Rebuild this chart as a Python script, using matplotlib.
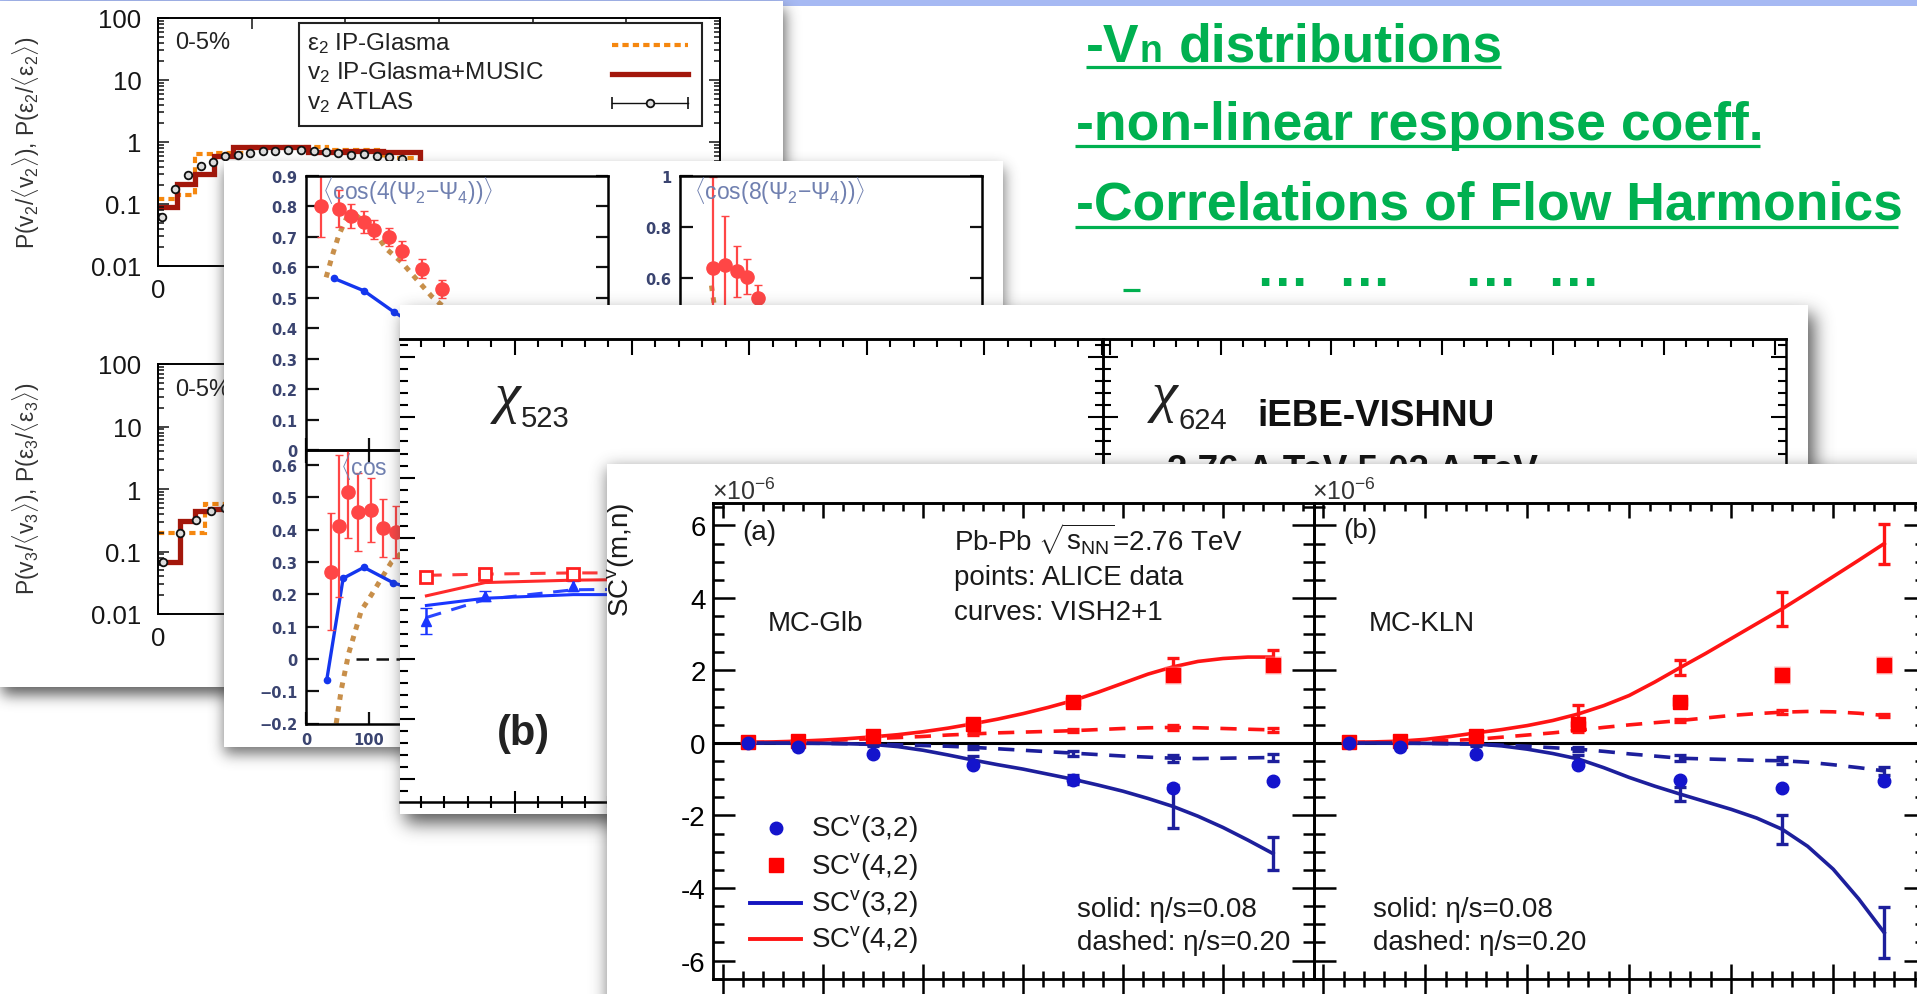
import numpy as np
import matplotlib
matplotlib.use("Agg")
import matplotlib.pyplot as plt
from matplotlib.patches import Rectangle
from matplotlib.ticker import (MultipleLocator, FixedLocator, FixedFormatter,
                               NullFormatter)

W, H = 1917, 995

# ---------------------------------------------------------------
# v2 / v3 event-by-event distributions, 0-5 % (ATLAS vs IP-Glasma)
# ---------------------------------------------------------------
V2_EDGES = [0.0, 0.1, 0.2, 0.3, 0.4, 0.8, 1.0, 1.2, 1.4, 1.6]
V2_MUSIC = [0.088, 0.21, 0.305, 0.60, 0.82, 0.68, 0.72, 0.68, 0.45]
E2_EDGES = [0.0, 0.1, 0.2, 0.3, 0.5, 0.9, 1.2, 1.4, 1.6]
E2_GLASMA = [0.12, 0.14, 0.64, 0.66, 0.82, 0.75, 0.55, 0.40]
V2_ATLAS_X = [0.02, 0.09, 0.16, 0.23, 0.295, 0.356, 0.427, 0.491, 0.561, 0.625,
              0.694, 0.763, 0.833, 0.897, 0.961, 1.03, 1.10, 1.17, 1.233, 1.30]
V2_ATLAS_Y = [0.061, 0.175, 0.29, 0.405, 0.48, 0.59, 0.62, 0.66, 0.71, 0.72,
              0.74, 0.74, 0.72, 0.68, 0.66, 0.62, 0.64, 0.59, 0.57, 0.53]
V3_EDGES = [0.0, 0.12, 0.2, 0.28, 0.4, 0.6]
V3_MUSIC = [0.067, 0.31, 0.45, 0.48, 0.52]
E3_EDGES = [0.0, 0.25, 0.45]
E3_GLASMA = [0.2, 0.57]
V3_ATLAS_X = [0.028, 0.117, 0.203, 0.281, 0.36]
V3_ATLAS_Y = [0.067, 0.20, 0.32, 0.45, 0.50]
DIST_YTICKS = [0.01, 0.1, 1, 10, 100]
DIST_YLABELS = ['0.01', '0.1', '1', '10', '100']
DIST_XTICKS = [0, 0.5, 1, 1.5, 2, 2.5, 3]
DIST_XLABELS = ['0', '', '', '', '', '', '']

# ---------------------------------------------------------------
# event-plane correlations vs Npart
# ---------------------------------------------------------------
NPART_A = [24, 52, 72, 92, 108, 132, 152, 184, 216]
COS4_DATA = [0.80, 0.793, 0.768, 0.749, 0.724, 0.699, 0.655, 0.596, 0.529]
COS4_ERR = [0.10, 0.06, 0.04, 0.035, 0.03, 0.03, 0.03, 0.03, 0.03]
COS4_GLB_X = [32, 42, 52, 64, 80, 104, 128, 152, 176, 200, 230]
COS4_GLB_Y = [0.567, 0.64, 0.705, 0.76, 0.77, 0.73, 0.66, 0.617, 0.56, 0.504, 0.45]
COS4_HYD_X = [44, 92, 140, 190]
COS4_HYD_Y = [0.564, 0.523, 0.453, 0.39]

NPART_B = [52, 71, 90, 106, 124]
COS8_DATA = [0.638, 0.651, 0.625, 0.605, 0.52]
COS8_ERR = [0.36, 0.19, 0.10, 0.07, 0.05]
COS8_GLB_X = [50, 54, 58]
COS8_GLB_Y = [0.57, 0.50, 0.42]

NPART_C = [39, 52, 67, 83, 103, 123, 143]
COS6_DATA = [0.27, 0.412, 0.515, 0.454, 0.46, 0.405, 0.393]
COS6_ERR = [0.18, 0.22, 0.14, 0.12, 0.10, 0.09, 0.08]
COS6_GLB_X = [48, 56, 68, 88, 104, 136, 170]
COS6_GLB_Y = [-0.2, -0.096, 0.018, 0.15, 0.198, 0.30, 0.36]
COS6_HYD_X = [33, 59, 92, 139, 180]
COS6_HYD_Y = [-0.065, 0.249, 0.283, 0.235, 0.21]
EP_YTICKS_A = [0, 0.1, 0.2, 0.3, 0.4, 0.5, 0.6, 0.7, 0.8, 0.9]
EP_YTICKS_B = [0.2, 0.4, 0.6, 0.8, 1.0]
EP_YTICKS_C = [-0.2, -0.1, 0, 0.1, 0.2, 0.3, 0.4, 0.5, 0.6]

# ---------------------------------------------------------------
# non-linear response coefficients (iEBE-VISHNU)
# ---------------------------------------------------------------
CENT_CHI = [2.5, 7.5, 15]
CHI523_OPEN = [2.675, 2.70, 2.70]
CHI523_OPEN_ERR = [0.04, 0.03, 0.03]
CHI523_FULL = [2.31, 2.52, 2.60]
CHI523_FULL_ERR = [0.11, 0.04, 0.04]
CENT_CHI_MODEL = [2.5, 7.5, 15, 25]
CHI523_RED_SOLID = [2.52, 2.63, 2.65, 2.66]
CHI523_RED_DASH = [2.69, 2.70, 2.71, 2.71]
CHI523_BLUE_SOLID = [2.44, 2.50, 2.53, 2.53]
CHI523_BLUE_DASH = [2.34, 2.49, 2.57, 2.58]

# ---------------------------------------------------------------
# symmetric cumulants SC(m,n), Pb-Pb 2.76 TeV
# ---------------------------------------------------------------
CENT = [2.5, 7.5, 15, 25, 35, 45, 55]
SC32_ALICE = [0.0, -0.12, -0.30, -0.61, -1.01, -1.23, -1.04]
SC42_ALICE = [0.04, 0.06, 0.18, 0.53, 1.14, 1.88, 2.14]
SC42_SYS = [0.03, 0.03, 0.05, 0.08, 0.12, 0.25, 0.25]
CENT_FINE = [2.5, 5, 7.5, 10, 12.5, 15, 17.5, 20, 22.5, 25, 27.5,
             30, 32.5, 35, 37.5, 40, 42.5, 45, 47.5, 50, 52.5, 55]
BIN_IDX = [0, 2, 5, 9, 13, 17, 21]

GLB_SC42_008 = [0.02, 0.03, 0.05, 0.08, 0.12, 0.17, 0.23, 0.31, 0.41, 0.53, 0.66,
                0.81, 0.98, 1.17, 1.40, 1.65, 1.90, 2.10, 2.25, 2.33, 2.37, 2.37]
GLB_SC42_020 = [0.01, 0.02, 0.04, 0.06, 0.09, 0.12, 0.15, 0.18, 0.22, 0.25, 0.28,
                0.30, 0.32, 0.34, 0.37, 0.40, 0.42, 0.43, 0.42, 0.40, 0.38, 0.36]
GLB_SC32_008 = [0.0, 0.0, 0.0, -0.01, -0.02, -0.04, -0.10, -0.20, -0.33, -0.47, -0.60,
                -0.72, -0.86, -1.00, -1.16, -1.33, -1.53, -1.75, -2.02, -2.33, -2.68, -3.05]
GLB_SC32_020 = [0.0, 0.0, -0.01, -0.01, -0.02, -0.03, -0.05, -0.07, -0.09, -0.12, -0.16,
                -0.20, -0.24, -0.28, -0.32, -0.36, -0.39, -0.42, -0.43, -0.42, -0.41, -0.40]
GLB_ERR_42_008 = [0.02, 0.02, 0.05, 0.10, 0.10, 0.25, 0.20]
GLB_ERR_42_020 = [0.01, 0.01, 0.03, 0.03, 0.04, 0.06, 0.05]
GLB_ERR_32_008 = [0.02, 0.02, 0.05, 0.10, 0.12, 0.60, 0.45]
GLB_ERR_32_020 = [0.01, 0.01, 0.03, 0.05, 0.07, 0.10, 0.10]

KLN_SC42_008 = [0.02, 0.03, 0.05, 0.10, 0.18, 0.28, 0.37, 0.48, 0.62, 0.80, 1.03,
                1.31, 1.68, 2.08, 2.47, 2.88, 3.29, 3.70, 4.14, 4.59, 5.04, 5.50]
KLN_SC42_020 = [0.01, 0.02, 0.03, 0.05, 0.07, 0.10, 0.16, 0.22, 0.28, 0.35, 0.43,
                0.50, 0.56, 0.62, 0.69, 0.76, 0.81, 0.85, 0.87, 0.86, 0.82, 0.76]
KLN_SC32_008 = [0.0, 0.0, 0.0, -0.01, -0.02, -0.03, -0.08, -0.17, -0.29, -0.44, -0.68,
                -0.95, -1.19, -1.41, -1.62, -1.83, -2.07, -2.38, -2.85, -3.48, -4.30, -5.23]
KLN_SC32_020 = [0.0, 0.0, -0.01, -0.01, -0.02, -0.03, -0.06, -0.09, -0.13, -0.17, -0.23,
                -0.30, -0.36, -0.42, -0.44, -0.46, -0.48, -0.49, -0.53, -0.60, -0.68, -0.77]
KLN_ERR_42_008 = [0.02, 0.02, 0.05, 0.25, 0.20, 0.46, 0.55]
KLN_ERR_42_020 = [0.01, 0.01, 0.03, 0.04, 0.05, 0.05, 0.05]
KLN_ERR_32_008 = [0.02, 0.02, 0.05, 0.10, 0.20, 0.40, 0.71]
KLN_ERR_32_020 = [0.01, 0.01, 0.03, 0.06, 0.08, 0.10, 0.10]

GREEN = '#00b050'
RED = '#ff1414'
NAVY = '#1d1f9c'
BLUE_PT = '#1414cc'

plt.rcParams.update({
    'font.family': ['Liberation Sans', 'DejaVu Sans'],
    'mathtext.fontset': 'custom',
    'mathtext.rm': 'Liberation Sans',
    'mathtext.it': 'Liberation Sans:italic',
    'mathtext.bf': 'Liberation Sans:bold',
    'mathtext.sf': 'Liberation Sans',
    'axes.unicode_minus': False,
    'axes.linewidth': 1.5,
})

fig = plt.figure(figsize=(W / 100, H / 100), dpi=100)
fig.patch.set_facecolor('white')


def box(x0, y0, x1, y1):
    """Pixel box (top-left origin) -> figure fraction rectangle."""
    return [x0 / W, 1 - y1 / H, (x1 - x0) / W, (y1 - y0) / H]


base = fig.add_axes([0, 0, 1, 1])
base.set_xlim(0, W)
base.set_ylim(H, 0)
base.axis('off')
PIX = base.transData


def blur(a, sigma):
    r = int(3 * sigma)
    t = np.arange(-r, r + 1)
    k = np.exp(-0.5 * (t / sigma) ** 2)
    k /= k.sum()
    a = np.apply_along_axis(lambda m: np.convolve(m, k, mode='same'), 0, a)
    a = np.apply_along_axis(lambda m: np.convolve(m, k, mode='same'), 1, a)
    return a


def add_panel(x0, y0, x1, y1, dx=2, dy=6, sigma=7.0, alpha=0.6):
    """White slide panel with a soft drop shadow underneath."""
    pad = int(4 * sigma) + 4
    X0, Y0 = x0 + dx - pad, y0 + dy - pad
    X1, Y1 = x1 + dx + pad, y1 + dy + pad
    a = np.zeros((int(Y1 - Y0), int(X1 - X0)))
    a[pad:-pad, pad:-pad] = 1.0
    a = blur(a, sigma) * alpha
    img = np.zeros(a.shape + (4,))
    img[..., :3] = 0.22
    img[..., 3] = a
    sax = fig.add_axes(box(X0, Y0, X1, Y1))
    sax.axis('off')
    sax.imshow(img, extent=(0, 1, 0, 1), aspect='auto', interpolation='bilinear')
    sax.set_xlim(0, 1)
    sax.set_ylim(0, 1)
    bg = fig.add_axes(box(x0, y0, x1, y1))
    bg.set_xticks([])
    bg.set_yticks([])
    for s in bg.spines.values():
        s.set_visible(False)
    bg.set_facecolor('white')
    return bg


def frame(x0, y0, x1, y1, lw=1.5):
    ax = fig.add_axes(box(x0, y0, x1, y1))
    ax.patch.set_alpha(0)
    for s in ax.spines.values():
        s.set_linewidth(lw)
    return ax


# ---------------- slide header band and bullet text ----------------
base.add_patch(Rectangle((0, 0), W, 7, color='#a6b9f3', lw=0))

gkw = dict(color=GREEN, fontsize=38.5, fontweight='bold', va='baseline', ha='left')
base.text(1086, 61.5, '-V', **gkw)
base.text(1139, 61.5, 'n', color=GREEN, fontsize=27, fontweight='bold', va='baseline', ha='left')
base.text(1179, 61.5, 'distributions', **gkw)
base.plot([1086, 1501], [67.5, 67.5], color=GREEN, lw=2.3, solid_capstyle='butt')
base.text(1076, 140, '-non-linear response coeff.', **gkw)
base.plot([1075, 1760], [146.5, 146.5], color=GREEN, lw=2.3, solid_capstyle='butt')
base.text(1076, 220, '-Correlations of Flow Harmonics', **gkw)
base.plot([1075, 1898], [227.5, 227.5], color=GREEN, lw=2.3, solid_capstyle='butt')
for xc in (1282, 1364, 1490, 1573):
    base.text(xc, 286, '\u2026', color=GREEN, fontsize=38.5, fontweight='bold',
              va='baseline', ha='center')
base.plot([1123, 1140], [291, 291], color=GREEN, lw=2.3, solid_capstyle='butt')

# ====================== panel 1 : v_n distributions ======================
p1 = add_panel(0, 2, 783, 688, dx=2, dy=8, sigma=7, alpha=0.8)


def dist_axes(rect, edges_h, vals_h, edges_e, vals_e, px, py):
    ax = frame(*rect, lw=1.4)
    ax.set_yscale('log')
    ax.stairs(vals_e, edges_e, baseline=None, color='#f5870f', lw=3.0,
              ls=(0, (1.5, 1.0)))
    ax.stairs(vals_h, edges_h, baseline=None, color='#a3170b', lw=3.8)
    ax.errorbar(px, py, yerr=np.array(py) * 0.04, fmt='o', ms=5.5, mfc='#dddddd',
                mec='#111111', mew=1.3, ecolor='#111111', elinewidth=1.0)
    ax.set_xlim(0, 3)
    ax.set_ylim(0.01, 100)
    ax.yaxis.set_major_locator(FixedLocator(DIST_YTICKS))
    ax.yaxis.set_major_formatter(FixedFormatter(DIST_YLABELS))
    ax.yaxis.set_minor_formatter(NullFormatter())
    ax.xaxis.set_major_locator(FixedLocator(DIST_XTICKS))
    ax.xaxis.set_major_formatter(FixedFormatter(DIST_XLABELS))
    ax.tick_params(which='both', direction='in', top=True, right=True, width=1.1,
                   colors='#111111')
    ax.tick_params(which='major', length=8)
    ax.tick_params(which='minor', length=4)
    ax.tick_params(axis='y', labelsize=18.5, pad=12, labelcolor='#151515')
    ax.tick_params(axis='x', labelsize=18.5, pad=9, labelcolor='#151515')
    ax.set_autoscale_on(False)
    return ax


a1u = dist_axes((158, 19, 720, 267), V2_EDGES, V2_MUSIC, E2_EDGES, E2_GLASMA,
                V2_ATLAS_X, V2_ATLAS_Y)
a1u.text(175, 43, '0-5%', transform=PIX, fontsize=17, va='center', color='#222222')
a1u.add_patch(Rectangle((299, 24), 403, 103, transform=PIX, facecolor='white',
                        edgecolor='#222222', lw=1.5, zorder=5))
lkw = dict(transform=PIX, fontsize=17.5, va='center', ha='left', color='#222222', zorder=6)
a1u.text(307, 44, '\u03b5$_2$ IP-Glasma', **lkw)
a1u.text(307, 73, 'v$_2$ IP-Glasma+MUSIC', **lkw)
a1u.text(307, 103, 'v$_2$ ATLAS', **lkw)
a1u.plot([612, 688], [46, 46], transform=PIX, color='#f5870f', lw=3.0,
         ls=(0, (1.5, 1.0)), zorder=6)
a1u.plot([612, 688], [75, 75], transform=PIX, color='#a3170b', lw=3.8, zorder=6)
a1u.plot([612, 688], [104, 104], transform=PIX, color='#111111', lw=1.0, zorder=6)
a1u.plot([612, 688], [104, 104], transform=PIX, ls='none', marker='|', ms=8,
         color='#111111', mew=1.2, zorder=6)
a1u.plot([650], [104], transform=PIX, ls='none', marker='o', ms=5.5, mfc='#dddddd',
         mec='#111111', mew=1.3, zorder=7)
a1u.text(26, 143, r'P(v$_2$/$\langle$v$_2$$\rangle$), P(ε$_2$/$\langle$ε$_2$$\rangle$)',
         transform=PIX, rotation=90, fontsize=16.5, ha='center', va='center',
         color='#333333')

a1l = dist_axes((158, 365, 720, 615), V3_EDGES, V3_MUSIC, E3_EDGES, E3_GLASMA,
                V3_ATLAS_X, V3_ATLAS_Y)
a1l.text(175, 390, '0-5%', transform=PIX, fontsize=17, va='center', color='#222222')
a1l.text(26, 489, r'P(v$_3$/$\langle$v$_3$$\rangle$), P(ε$_3$/$\langle$ε$_3$$\rangle$)',
         transform=PIX, rotation=90, fontsize=16.5, ha='center', va='center',
         color='#333333')

# ====================== panel 2 : event-plane correlations ======================
p2 = add_panel(224, 162, 1003, 748, dx=0, dy=7, sigma=7, alpha=0.7)
EPLAB = '#3a4470'
EPRED = '#ff4646'
EPBROWN = '#c88f4a'
EPBLUE = '#1436ee'
EPTITLE = dict(transform=PIX, fontsize=16.5, va='center', color='#7080b0')


def ep_axes(rect, yl, yticks, ylabels):
    ax = frame(*rect, lw=1.8)
    ax.set_xlim(0, 480)
    ax.set_ylim(*yl)
    ax.yaxis.set_major_locator(FixedLocator(yticks))
    ax.yaxis.set_major_formatter(FixedFormatter(ylabels))
    ax.xaxis.set_major_locator(MultipleLocator(100))
    ax.tick_params(which='major', direction='in', left=True, right=True, top=False,
                   bottom=True, length=9, width=1.6, colors='#111111')
    ax.tick_params(labelsize=10.5, labelcolor=EPLAB, pad=6)
    for lab in ax.get_yticklabels() + ax.get_xticklabels():
        lab.set_fontweight('bold')
        lab.set_family('DejaVu Sans')
    ax.set_autoscale_on(False)
    return ax


a2a = ep_axes((306, 177, 608, 451), (0, 0.9), EP_YTICKS_A,
              ['0', '0.1', '0.2', '0.3', '0.4', '0.5', '0.6', '0.7', '0.8', '0.9'])
a2a.tick_params(labelbottom=False)
a2a.plot(COS4_GLB_X, COS4_GLB_Y, color=EPBROWN, lw=3.6, ls=(0, (1.1, 1.3)))
a2a.plot(COS4_HYD_X, COS4_HYD_Y, color=EPBLUE, lw=2.4, marker='o', ms=4.5)
a2a.errorbar(NPART_A, COS4_DATA, yerr=COS4_ERR, xerr=7, fmt='o', ms=9.5, color=EPRED,
             ecolor=EPRED, elinewidth=1.6, capsize=3)
a2a.text(322, 191, r'$\langle$cos(4($\Psi_2$$-$$\Psi_4$))$\rangle$', **EPTITLE)

a2b = ep_axes((680, 177, 982, 451), (-0.076, 1.0), EP_YTICKS_B,
              ['0.2', '0.4', '0.6', '0.8', '1'])
a2b.tick_params(labelbottom=False)
a2b.plot(COS8_GLB_X, COS8_GLB_Y, color=EPBROWN, lw=3.6, ls=(0, (1.1, 1.3)))
a2b.errorbar(NPART_B, COS8_DATA, yerr=COS8_ERR, xerr=6, fmt='o', ms=9.5, color=EPRED,
             ecolor=EPRED, elinewidth=1.6, capsize=3)
a2b.text(694, 191, r'$\langle$cos(8($\Psi_2$$-$$\Psi_4$))$\rangle$', **EPTITLE)

a2c = ep_axes((306, 451, 608, 724.5), (-0.2, 0.646), EP_YTICKS_C,
              ['\u22120.2', '\u22120.1', '0', '0.1', '0.2', '0.3', '0.4', '0.5', '0.6'])
a2c.tick_params(axis='x', top=True)
a2c.xaxis.set_major_locator(FixedLocator([0, 100, 200, 300, 400]))
a2c.xaxis.set_major_formatter(FixedFormatter(['0', '100', '', '', '']))
for lab in a2c.get_xticklabels():
    lab.set_fontweight('bold')
    lab.set_family('DejaVu Sans')
a2c.plot([80, 480], [0, 0], color='#111111', lw=1.8, ls=(0, (5, 3)))
a2c.plot(COS6_GLB_X, COS6_GLB_Y, color=EPBROWN, lw=3.6, ls=(0, (1.1, 1.3)))
a2c.plot(COS6_HYD_X, COS6_HYD_Y, color=EPBLUE, lw=2.4, marker='o', ms=4.5)
a2c.errorbar(NPART_C, COS6_DATA, yerr=COS6_ERR, xerr=7, fmt='o', ms=9.5, color=EPRED,
             ecolor=EPRED, elinewidth=1.6, capsize=3)
a2c.text(340, 466, r'$\langle$cos', **EPTITLE)

# ====================== panel 3 : chi_523 / chi_624 ======================
p3 = add_panel(400, 306, 1808, 815, dx=5, dy=9, sigma=9, alpha=0.85)


def chi_axes(rect, xl, left_spine=True):
    ax = frame(*rect, lw=1.8)
    ax.set_xlim(*xl)
    ax.set_ylim(0.81, 4.65)
    ax.spines['left'].set_visible(left_spine)
    ax.xaxis.set_major_locator(MultipleLocator(10))
    ax.xaxis.set_minor_locator(MultipleLocator(2))
    ax.yaxis.set_major_locator(MultipleLocator(0.5))
    ax.yaxis.set_minor_locator(MultipleLocator(0.1))
    ax.tick_params(axis='y', which='both', direction='in', left=True, right=True,
                   labelleft=False, width=1.5)
    ax.tick_params(axis='y', which='major', length=11)
    ax.tick_params(axis='y', which='minor', length=5.5)
    ax.tick_params(axis='x', which='both', direction='inout', bottom=True, top=False,
                   labelbottom=False, width=1.5)
    ax.tick_params(axis='x', which='major', length=16)
    ax.tick_params(axis='x', which='minor', length=9)
    sec = ax.secondary_xaxis('top')
    sec.xaxis.set_major_locator(MultipleLocator(10))
    sec.xaxis.set_minor_locator(MultipleLocator(2))
    sec.tick_params(which='both', direction='in', labeltop=False, width=1.5)
    sec.tick_params(which='major', length=11.5)
    sec.tick_params(which='minor', length=6)
    sec.spines['top'].set_linewidth(1.8)
    ax.set_autoscale_on(False)
    return ax


a3a = chi_axes((400, 340, 1103, 803), (0.25, 60.1), left_spine=False)
a3a.plot(CENT_CHI_MODEL, CHI523_RED_DASH, color='#ff3a3a', lw=2.2, ls=(0, (5, 3.5)))
a3a.plot(CENT_CHI_MODEL, CHI523_RED_SOLID, color='#ff2a2a', lw=2.2)
a3a.plot(CENT_CHI_MODEL, CHI523_BLUE_DASH, color='#2a46ff', lw=2.2, ls=(0, (5, 3.5)))
a3a.plot(CENT_CHI_MODEL, CHI523_BLUE_SOLID, color='#1a36ff', lw=2.2)
a3a.errorbar(CENT_CHI, CHI523_OPEN, yerr=CHI523_OPEN_ERR, fmt='s', ms=9, mfc='white',
             mec='#ff2020', mew=2, ecolor='#ff2020', elinewidth=1.6, capsize=3)
a3a.errorbar(CENT_CHI, CHI523_FULL, yerr=CHI523_FULL_ERR, fmt='^', ms=7,
             color='#1a36ff', elinewidth=1.8, capsize=4)
a3a.text(507, 398, '\u03c7', transform=PIX, fontsize=42, family='Liberation Serif',
         style='italic', ha='center', va='center', color='#222222')
a3a.text(521, 427, '523', transform=PIX, fontsize=21, ha='left', va='baseline',
         color='#222222')
a3a.text(523, 734, '(b)', transform=PIX, fontsize=30, fontweight='bold',
         ha='center', va='center', color='#222222')

a3b = chi_axes((1103, 340, 1786, 803), (-0.6, 61.0))
a3b.text(1164, 397, '\u03c7', transform=PIX, fontsize=42, family='Liberation Serif',
         style='italic', ha='center', va='center', color='#222222')
a3b.text(1178, 429, '624', transform=PIX, fontsize=21, ha='left', va='baseline',
         color='#222222')
a3b.text(1257, 426, 'iEBE-VISHNU', transform=PIX, fontsize=26.5, fontweight='bold',
         ha='left', va='baseline', color='#111111')
a3b.text(1167, 481, '2.76 A TeV 5.02 A TeV', transform=PIX, fontsize=26.5,
         fontweight='bold', ha='left', va='baseline', color='#111111')

# ====================== panel 4 : symmetric cumulants ======================
p4 = add_panel(607, 465, 1930, 1010, dx=0, dy=4, sigma=8, alpha=0.65)


def sc_axes(rect, xl, labels):
    ax = frame(*rect, lw=2.0)
    ax.set_xlim(*xl)
    ax.set_ylim(-6.51, 6.62)
    ax.xaxis.set_major_locator(MultipleLocator(10))
    ax.xaxis.set_minor_locator(MultipleLocator(2))
    ax.yaxis.set_major_locator(MultipleLocator(2))
    ax.yaxis.set_minor_locator(MultipleLocator(0.5))
    ax.tick_params(axis='y', which='both', direction='in', left=True, right=True,
                   labelleft=labels, width=1.8, labelsize=20, pad=5)
    ax.tick_params(axis='y', which='major', length=16)
    ax.tick_params(axis='y', which='minor', length=8)
    ax.tick_params(axis='x', which='both', direction='inout', bottom=True, top=False,
                   labelbottom=False, width=1.8)
    ax.tick_params(axis='x', which='major', length=22)
    ax.tick_params(axis='x', which='minor', length=12)
    sec = ax.secondary_xaxis('top')
    sec.xaxis.set_major_locator(MultipleLocator(10))
    sec.xaxis.set_minor_locator(MultipleLocator(2))
    sec.tick_params(which='both', direction='in', labeltop=False, width=1.8)
    sec.tick_params(which='major', length=11)
    sec.tick_params(which='minor', length=6)
    sec.spines['top'].set_linewidth(2.0)
    sec.spines['top'].set_color('#555555')
    ax.set_autoscale_on(False)
    return ax


def sc_curves(ax, r8, r20, b8, b20, er8, er20, eb8, eb20):
    ax.axhline(0, color='black', lw=2.2, zorder=1)
    xb = [CENT_FINE[i] for i in BIN_IDX]
    dash = (0, (4.5, 3.2))
    ax.plot(CENT_FINE, r20, color=RED, lw=2.6, ls=dash, zorder=3)
    ax.plot(CENT_FINE, b20, color=NAVY, lw=2.6, ls=dash, zorder=3)
    ax.plot(CENT_FINE, r8, color=RED, lw=2.6, zorder=3)
    ax.plot(CENT_FINE, b8, color=NAVY, lw=2.6, zorder=3)
    for vals, err, col in ((r8, er8, RED), (r20, er20, RED), (b8, eb8, NAVY), (b20, eb20, NAVY)):
        ax.errorbar(xb, [vals[i] for i in BIN_IDX], yerr=err, fmt='none', ecolor=col,
                    elinewidth=2.4, capsize=4, capthick=2.4, zorder=3)
    ax.errorbar(CENT, SC42_ALICE, yerr=SC42_SYS, fmt='none', ecolor='#ff8a8a',
                elinewidth=12, alpha=0.55, zorder=4)
    ax.plot(CENT, SC42_ALICE, ls='none', marker='s', ms=9.5, color='#ff0000',
            mec='#ff0000', zorder=5)
    ax.plot(CENT, SC32_ALICE, ls='none', marker='o', ms=9, color=BLUE_PT,
            mec=BLUE_PT, zorder=5)


a4a = sc_axes((712.5, 504, 1314, 980), (-1.05, 59.1), True)
sc_curves(a4a, GLB_SC42_008, GLB_SC42_020, GLB_SC32_008, GLB_SC32_020,
          GLB_ERR_42_008, GLB_ERR_42_020, GLB_ERR_32_008, GLB_ERR_32_020)
a4b = sc_axes((1314, 504, 1926, 980), (-0.9, 59.1), False)
sc_curves(a4b, KLN_SC42_008, KLN_SC42_020, KLN_SC32_008, KLN_SC32_020,
          KLN_ERR_42_008, KLN_ERR_42_020, KLN_ERR_32_008, KLN_ERR_32_020)

tkw = dict(transform=PIX, fontsize=20, va='center', ha='left', color='#1a1a1a')
a4a.text(712, 492, '\u00d710$^{-6}$', transform=PIX, fontsize=18, va='center',
         ha='left', color='#333333')
a4b.text(1312, 492, '\u00d710$^{-6}$', transform=PIX, fontsize=18, va='center',
         ha='left', color='#333333')
a4a.text(621, 560, 'SC$^{\\mathrm{v}}$(m,n)', transform=PIX, rotation=90, fontsize=20,
         ha='center', va='center', color='#1a1a1a')
a4a.text(742, 533, '(a)', **tkw)
a4a.text(954, 539, 'Pb-Pb $\\sqrt{\\mathrm{s}_{\\mathrm{NN}}}$=2.76 TeV', **tkw)
a4a.text(954, 578, 'points: ALICE data', **tkw)
a4a.text(954, 613, 'curves: VISH2+1', **tkw)
a4a.text(768, 624, 'MC-Glb', **tkw)
a4a.text(1077, 910, 'solid: \u03b7/s=0.08', **tkw)
a4a.text(1077, 943, 'dashed: \u03b7/s=0.20', **tkw)
a4b.text(1343, 531, '(b)', **tkw)
a4b.text(1369, 624, 'MC-KLN', **tkw)
a4b.text(1373, 910, 'solid: \u03b7/s=0.08', **tkw)
a4b.text(1373, 943, 'dashed: \u03b7/s=0.20', **tkw)

# legend of the SC panel
a4a.plot([776], [829], transform=PIX, ls='none', marker='o', ms=9, color=BLUE_PT, zorder=6)
a4a.plot([776], [866], transform=PIX, ls='none', marker='s', ms=9.5, color='#ff0000', zorder=6)
a4a.plot([750, 801], [903.5, 903.5], transform=PIX, color='#1414c0', lw=2.8, zorder=6)
a4a.plot([750, 801], [939.5, 939.5], transform=PIX, color=RED, lw=2.8, zorder=6)
for yy, lab in ((829, 'SC$^{\\mathrm{v}}$(3,2)'), (866, 'SC$^{\\mathrm{v}}$(4,2)'),
                (903.5, 'SC$^{\\mathrm{v}}$(3,2)'), (939.5, 'SC$^{\\mathrm{v}}$(4,2)')):
    a4a.text(811, yy, lab, **tkw)

fig.savefig('out.png', dpi=100)
